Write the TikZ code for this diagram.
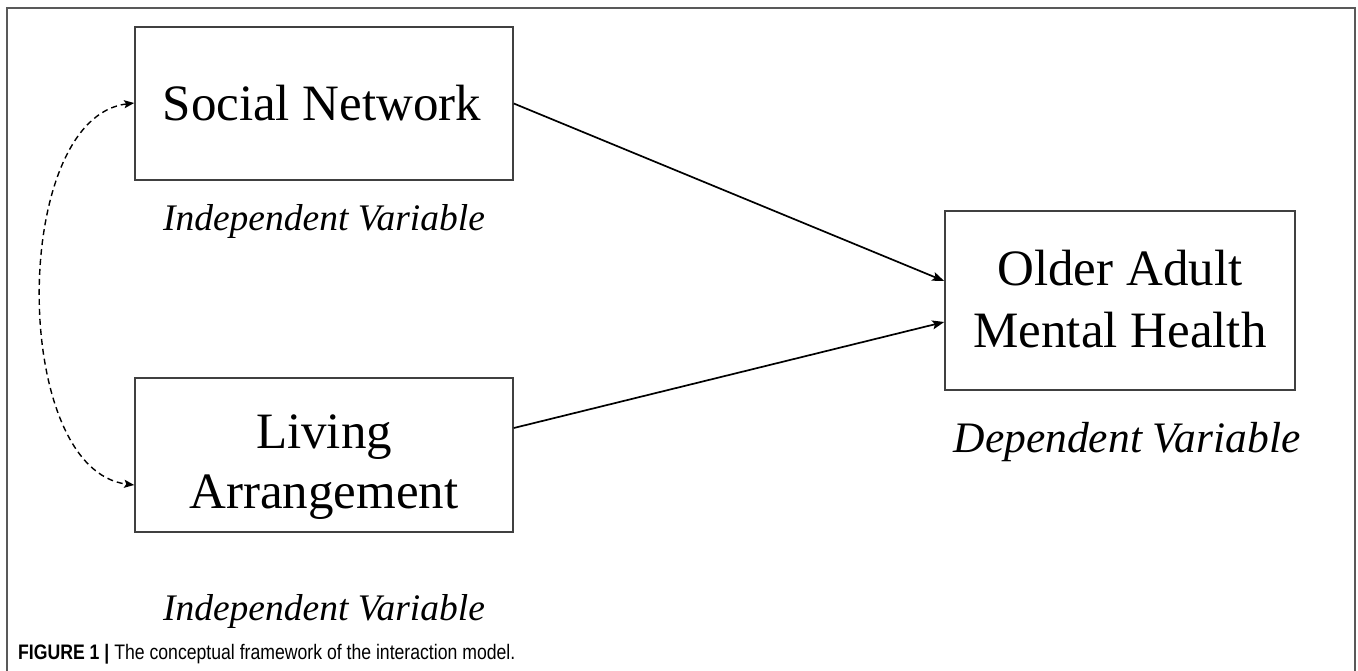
\documentclass[tikz,border=0pt]{standalone}
\usepackage{fontspec}
\setmainfont{Liberation Serif}
\newfontfamily\capfont{Liberation Sans}
\usetikzlibrary{arrows.meta}
\begin{document}
\begin{tikzpicture}[x=1pt,y=-1pt,
  varbox/.style={draw=black!75,line width=1.6pt,inner sep=0pt},
  boxtext/.style={anchor=base,inner sep=0pt,font=\fontsize{51}{60}\selectfont},
  varlabel/.style={anchor=base,inner sep=0pt,font=\fontsize{37.5}{42}\selectfont\itshape},
  link/.style={line width=1.7pt,-{Stealth[length=12pt,width=9pt,inset=2.5pt]}},
  corr/.style={line width=1.4pt,dash pattern=on 6pt off 4pt,{Stealth[length=10pt,width=8pt,inset=2pt]}-{Stealth[length=10pt,width=8pt,inset=2pt]}}]
\useasboundingbox (0,0) rectangle (1358,670);
\fill[white] (0,0) rectangle (1358,670);
\draw[black!65,line width=2pt] (7,675) -- (7,8) -- (1355,8) -- (1355,675);
% boxes
\node[varbox,minimum width=378pt,minimum height=153pt] (sn) at (324,103.5) {};
\node[varbox,minimum width=378pt,minimum height=154pt] (la) at (324,455) {};
\node[varbox,minimum width=350pt,minimum height=179pt] (oa) at (1120,300.5) {};
% box texts
\node[boxtext] (snt) at (322,120) {Social Network};
\node[boxtext] (lat1) at (324,448) {Living};
\node[boxtext] (lat2) at (324,508) {Arrangement};
\node[boxtext] (oat1) at (1120,285) {Older Adult};
\node[boxtext] (oat2) at (1120,347) {Mental Health};
% labels
\node[varlabel] (snl) at (324,230) {Independent Variable};
\node[varlabel] (lal) at (324,620) {Independent Variable};
\node[varlabel,font=\fontsize{43.5}{48}\selectfont\itshape] (oal) at (1127,452) {Dependent Variable};
% connectors
\draw[link] (sn.east) -- ([yshift=19.5pt]oa.west);
\draw[link] ([yshift=27pt]la.east) -- ([yshift=-21.5pt]oa.west);
\draw[corr] ([yshift=0.5pt]sn.west) .. controls (10,118) and (10,470) .. ([yshift=-30pt]la.west);
% caption
\node[anchor=base west,inner sep=0pt,font=\capfont\fontsize{21}{24}\selectfont] (cap) at (18,659) {\scalebox{0.84}[1]{\textbf{FIGURE 1 |} The conceptual framework of the interaction model.}};
\end{tikzpicture}
\end{document}
